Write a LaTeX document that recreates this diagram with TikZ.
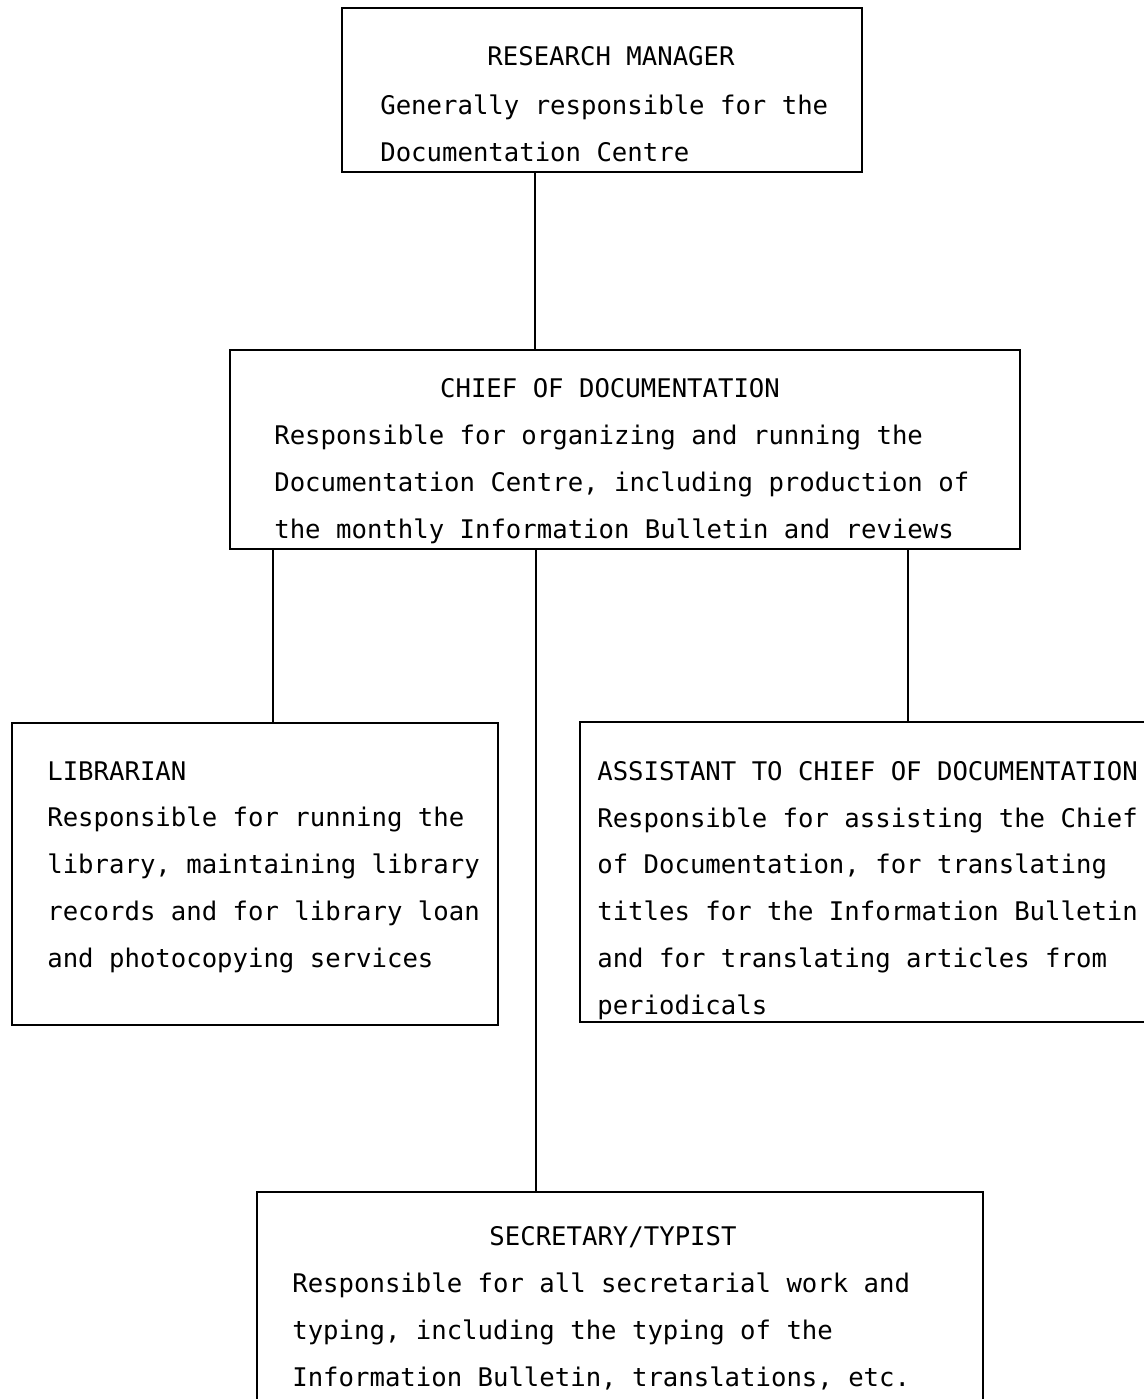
\documentclass[tikz,border=0pt]{standalone}
\usepackage{fontspec}
\setmonofont{DejaVu Sans Mono}
\usepackage{tikz}

\begin{document}
\begin{tikzpicture}[x=0.02cm, y=-0.02cm,
  box/.style={draw, line width=1.3pt, inner sep=0, outer sep=0},
  head/.style={anchor=base, inner sep=0, font=\ttfamily\fontsize{14.6}{26.6}\selectfont},
  body/.style={anchor=base west, inner sep=0, align=left, font=\ttfamily\fontsize{14.6}{26.6}\selectfont}]
\useasboundingbox (0,0) rectangle (1143,1399);
% boxes
\node[box, minimum width=10.4cm, minimum height=3.28cm] (rm) at (602,90) {};
\node[box, minimum width=15.8cm, minimum height=3.98cm] (chief) at (625,449.5) {};
\node[box, minimum width=9.72cm, minimum height=6.04cm] (lib) at (255,874) {};
\node[box, minimum width=11.6cm, minimum height=6.0cm] (asst) at (870,872) {};
\node[box, minimum width=14.52cm, minimum height=4.56cm] (sec) at (620,1306) {};
% texts (body nodes sit on their last line)
\node[head] (rmtitle) at (611,66) {RESEARCH MANAGER};
\node[body] (rmtext) at (380,161) {Generally responsible for the\\Documentation Centre};
\node[head] (chieftitle) at (610,397) {CHIEF OF DOCUMENTATION};
\node[body] (chieftext) at (274,538) {Responsible for organizing and running the\\Documentation Centre, including production of\\the monthly Information Bulletin and reviews};
\node[body] (libtext) at (47,967) {LIBRARIAN\\Responsible for running the\\library, maintaining library\\records and for library loan\\and photocopying services};
\node[body] (assttext) at (597,1014) {ASSISTANT TO CHIEF OF DOCUMENTATION\\Responsible for assisting the Chief\\of Documentation, for translating\\titles for the Information Bulletin\\and for translating articles from\\periodicals};
\node[head] (sectitle) at (613,1245) {SECRETARY/TYPIST};
\node[body] (sectext) at (292,1386) {Responsible for all secretarial work and\\typing, including the typing of the\\Information Bulletin, translations, etc.};
% connectors
\draw[line width=1.1pt] (rm.south -| 535,0) -- (chief.north -| 535,0);
\draw[line width=1.1pt] (chief.south -| 273,0) -- (lib.north -| 273,0);
\draw[line width=1.1pt] (chief.south -| 536,0) -- (sec.north -| 536,0);
\draw[line width=1.1pt] (chief.south -| 908,0) -- (asst.north -| 908,0);
\end{tikzpicture}
\end{document}
